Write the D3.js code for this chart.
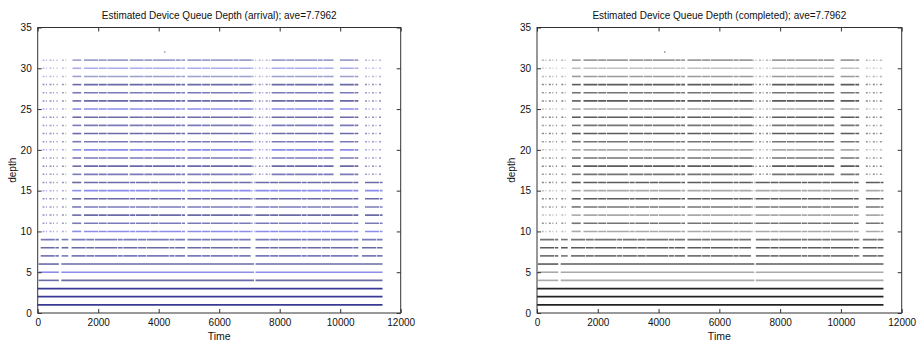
<!DOCTYPE html>
<html><head><meta charset="utf-8">
<script src="https://cdn.jsdelivr.net/npm/d3@7"></script>
<style>body{margin:0;background:#fff}svg{display:block}text{font-family:"Liberation Sans",Arial,sans-serif}</style>
</head><body><svg id="c" width="919" height="344"></svg>
<script>
// ---- data ----
const titles = ["Estimated Device Queue Depth (arrival); ave=7.7962",
                "Estimated Device Queue Depth (completed); ave=7.7962"];
const xTicks = [0, 2000, 4000, 6000, 8000, 10000, 12000];
const yTicks = [0, 5, 10, 15, 20, 25, 30, 35];
const baseDepths  = [1, 2, 3];
const lowDepths   = [4, 5, 6];
const midDepths   = [7, 8, 9];
const upperDepths = [10, 11, 12, 13, 14, 15, 16];
const topDepths   = [17, 18, 19, 20, 21, 22, 23, 24, 25, 26, 27, 28, 29, 30, 31];
// busy (dense) time intervals per depth group
const baseSegments  = [[0, 11400]];
const lowSegments   = [[30, 700], [780, 7150], [7200, 11400]];
const midSegments   = [[100, 700], [790, 1010], [1120, 4870], [4950, 7040], [7200, 10620], [10720, 11400]];
const upperSegments = [[1140, 1440], [1530, 4870], [4950, 7040], [7200, 10600], [10820, 11400]];
const topSegments   = [[1150, 1440], [1530, 2990], [3040, 4870], [4950, 7075], [7735, 9780], [9990, 10600]];
// sparse (dotted) time intervals per depth group
const upperSparse = [[160, 660], [800, 1010], [7040, 7200]];
const topSparse   = [[160, 660], [800, 940], [7075, 7735], [10820, 11400]];
const outliers = [[4200, 32]];

const groups = [
  {depths: baseDepths,  dense: baseSegments,  sparse: []},
  {depths: lowDepths,   dense: lowSegments,   sparse: []},
  {depths: midDepths,   dense: midSegments,   sparse: []},
  {depths: upperDepths, dense: upperSegments, sparse: upperSparse},
  {depths: topDepths,   dense: topSegments,   sparse: topSparse}
];

const svg = d3.select("#c");
const panels = [
  {x0: 37.7, x1: 400.7, title: titles[0],
   color: d => d <= 3 ? "#3a3a96" : (d % 5 === 0 ? "#8080e8" : (d % 2 ? "#6c6cb4" : "#5a5a9e")),
   dotColor: "#6060a8"},
  {x0: 537, x1: 901.7, title: titles[1],
   color: d => d <= 3 ? "#222" : ((d % 5 === 0 || d === 4 || d === 12) ? "#a0a0a0" : (d % 2 ? "#666" : "#4a4a4a")),
   dotColor: "#555"}
];
const yTop = 27.5, yBot = 313;

panels.forEach(p => {
  const x = d3.scaleLinear().domain([0, 12000]).range([p.x0, p.x1]);
  const y = d3.scaleLinear().domain([0, 35]).range([yBot, yTop]);
  const g = svg.append("g");

  groups.forEach(gr => {
    gr.depths.forEach(d => {
      const op = d >= 29 ? 0.65 : (d >= 4 ? 0.9 : 1);
      gr.dense.forEach(s => {
        g.append("line").attr("x1", x(s[0])).attr("x2", x(s[1]))
          .attr("y1", y(d)).attr("y2", y(d))
          .attr("stroke", p.color(d)).attr("stroke-width", d <= 3 ? 1.8 : 1.6).attr("opacity", op)
          .attr("stroke-dasharray", d <= 6 ? null : "14,0.7,8,0.7,22,0.7,5,0.7");
      });
      gr.sparse.forEach(s => {
        g.append("line").attr("x1", x(s[0])).attr("x2", x(s[1]))
          .attr("y1", y(d)).attr("y2", y(d))
          .attr("stroke", p.color(d)).attr("stroke-width", 1.5).attr("opacity", op * 0.75)
          .attr("stroke-dasharray", "2,1.5,1,2.5");
      });
    });
  });
  outliers.forEach(o => {
    g.append("rect").attr("x", x(o[0]) - 0.5).attr("y", y(o[1]) - 0.5)
      .attr("width", 1.2).attr("height", 1.2).attr("fill", p.dotColor);
  });

  // frame
  g.append("rect").attr("x", p.x0).attr("y", yTop).attr("width", p.x1 - p.x0).attr("height", yBot - yTop)
    .attr("fill", "none").attr("stroke", "#333").attr("stroke-width", 1);

  // axes with inward ticks
  const ax = d3.axisBottom(x).tickValues(xTicks).tickSize(-4).tickPadding(6).tickFormat(d3.format("d"));
  const axB = g.append("g").attr("transform", `translate(0,${yBot})`).call(ax);
  const axT = g.append("g").attr("transform", `translate(0,${yTop})`)
    .call(d3.axisTop(x).tickValues(xTicks).tickSize(-4).tickFormat(""));
  const ay = d3.axisLeft(y).tickValues(yTicks).tickSize(-4).tickPadding(6);
  const axL = g.append("g").attr("transform", `translate(${p.x0},0)`).call(ay);
  const axR = g.append("g").attr("transform", `translate(${p.x1},0)`)
    .call(d3.axisRight(y).tickValues(yTicks).tickSize(-4).tickFormat(""));
  [axB, axT, axL, axR].forEach(a => {
    a.select(".domain").remove();
    a.selectAll("line").attr("stroke", "#333");
    a.selectAll("text").attr("font-size", 10).attr("fill", "#111")
      .attr("font-family", "Liberation Sans, Arial, sans-serif");
  });

  g.append("text").attr("x", (p.x0 + p.x1) / 2).attr("y", 19).attr("text-anchor", "middle")
    .attr("font-size", 10).attr("fill", "#111").text(p.title);
  g.append("text").attr("x", (p.x0 + p.x1) / 2).attr("y", 340).attr("text-anchor", "middle")
    .attr("font-size", 10.5).attr("fill", "#111").text("Time");
  g.append("text").attr("transform", `translate(${p.x0 - 22},${(yTop + yBot) / 2}) rotate(-90)`)
    .attr("text-anchor", "middle").attr("font-size", 10).attr("fill", "#111").text("depth");
});
</script></body></html>
